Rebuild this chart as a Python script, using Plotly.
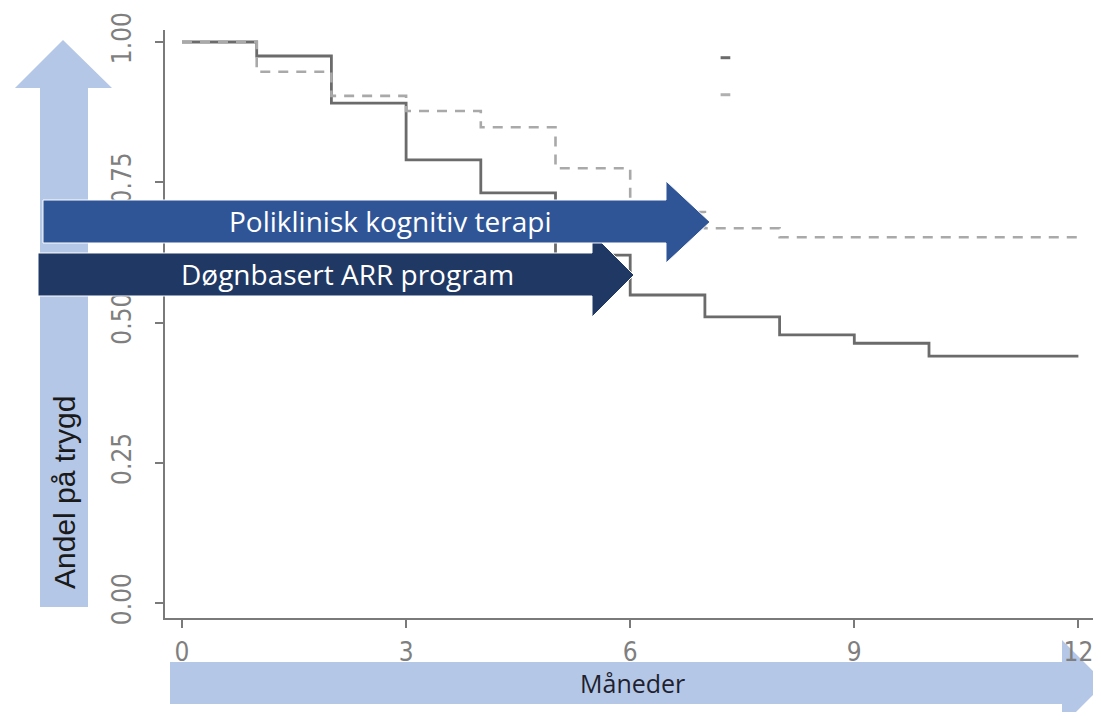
import plotly.graph_objects as go

# ---- data ----
months = [0, 1, 2, 3, 4, 5, 6, 7, 8, 9, 10, 12]
arr_program = [1.00, 0.975, 0.891, 0.790, 0.731, 0.620, 0.549, 0.510, 0.478, 0.463, 0.440, 0.440]
months_cbt = [0, 1, 2, 3, 4, 5, 6, 7, 8, 12]
cbt = [1.00, 0.947, 0.904, 0.877, 0.848, 0.775, 0.697, 0.668, 0.652, 0.652]
x_ticks = [0, 3, 6, 9, 12]
y_ticks = [0.0, 0.25, 0.5, 0.75, 1.0]
y_tick_text = ["0.00", "0.25", "0.50", "0.75", "1.00"]
legend_x = [7.21, 7.34]
legend_y_solid = [0.972, 0.972]
legend_y_dash = [0.906, 0.906]

label_y = "Andel på trygd"
label_x = "Måneder"
label_cbt = "Poliklinisk kognitiv terapi"
label_arr = "Døgnbasert ARR program"

# the page body has an 8px margin; make the page exactly fill the 1101x720 window
OFF = 8
W, H = 1101 - 2 * OFF, 720 - 2 * OFF
S_L, S_R, S_T, S_B = 165, OFF + W, 30, 618   # plot area in window pixels
ML, MT = S_L - OFF, S_T - OFF
MR, MB = (OFF + W) - S_R, (OFF + H) - S_B
PW, PH = S_R - S_L, S_B - S_T

X0_PIX, X_PER_MONTH = 182, 74.7
Y1_PIX, Y_PER_UNIT = 42, 561
x_range = [(S_L - X0_PIX) / X_PER_MONTH, (S_R - X0_PIX) / X_PER_MONTH]
y_range = [1 - (S_B - Y1_PIX) / Y_PER_UNIT, 1 + (Y1_PIX - S_T) / Y_PER_UNIT]


def px(X):
    return (X - S_L) / PW


def py(Y):
    return (S_B - Y) / PH


def harrow(x0, st, sb, xh, ht, hb, xt, yc):
    pts = [(x0, st), (xh, st), (xh, ht), (xt, yc), (xh, hb), (xh, sb), (x0, sb)]
    return "M " + " L ".join(f"{px(a):.5f},{py(b):.5f}" for a, b in pts) + " Z"


def varrow(sl, sr, y0, yh, hl, hr, xc, yt):
    pts = [(sl, y0), (sl, yh), (hl, yh), (xc, yt), (hr, yh), (sr, yh), (sr, y0)]
    return "M " + " L ".join(f"{px(a):.5f},{py(b):.5f}" for a, b in pts) + " Z"


fig = go.Figure()
fig.add_trace(go.Scatter(x=months, y=arr_program, mode="lines", line_shape="hv",
                         line=dict(color="#6b6b6b", width=2.8), showlegend=False))
fig.add_trace(go.Scatter(x=months_cbt, y=cbt, mode="lines", line_shape="hv",
                         line=dict(color="#a9a9a9", width=2.6, dash="10px,8px"), showlegend=False))
fig.add_trace(go.Scatter(x=legend_x, y=legend_y_solid, mode="lines",
                         line=dict(color="#6b6b6b", width=3), showlegend=False))
fig.add_trace(go.Scatter(x=legend_x, y=legend_y_dash, mode="lines",
                         line=dict(color="#b0b0b0", width=3), showlegend=False))

shapes = [
    dict(type="path", xref="paper", yref="paper", layer="below",
         path=varrow(40, 88, 607, 88, 15, 112, 63, 40),
         fillcolor="#b4c7e7", line=dict(width=0)),
    dict(type="path", xref="paper", yref="paper", layer="below",
         path=harrow(170, 662, 704, 1062, 640, 726, 1105, 683),
         fillcolor="#b4c7e7", line=dict(width=0)),
    dict(type="path", xref="paper", yref="paper", layer="above",
         path=harrow(38, 253, 296, 592, 233, 317, 634, 275),
         fillcolor="#203864", line=dict(color="white", width=1)),
    dict(type="path", xref="paper", yref="paper", layer="above",
         path=harrow(43, 200, 243, 666, 181, 263, 710, 222),
         fillcolor="#2f5597", line=dict(color="white", width=1)),
]

annotations = [
    dict(x=px(64), y=py(493), xref="paper", yref="paper", text=label_y, textangle=-90,
         xanchor="center", yanchor="middle", showarrow=False,
         font=dict(family="Liberation Sans", size=30, color="#1a1a1a")),
    dict(x=px(632), y=py(683), xref="paper", yref="paper", text=label_x,
         xanchor="center", yanchor="middle", showarrow=False,
         font=dict(family="Open Sans", size=25, color="#1f1f2f")),
    dict(x=px(390), y=py(221), xref="paper", yref="paper", text=label_cbt,
         xanchor="center", yanchor="middle", showarrow=False,
         font=dict(family="Open Sans", size=28, color="white")),
    dict(x=px(179), y=py(274), xref="paper", yref="paper", text=label_arr,
         xanchor="left", yanchor="middle", showarrow=False,
         font=dict(family="Open Sans", size=28, color="white")),
]

tick_font = dict(family="Liberation Sans Narrow, DejaVu Sans Condensed, Arial Narrow, sans-serif",
                 size=26, color="#7f7f7f")

fig.update_layout(
    width=W, height=H,
    margin=dict(l=ML, r=MR, t=MT, b=MB, pad=0, autoexpand=False),
    paper_bgcolor="white", plot_bgcolor="white",
    shapes=shapes, annotations=annotations,
    xaxis=dict(range=x_range, tickvals=x_ticks, ticktext=[str(v) for v in x_ticks],
               automargin=False, ticklabeloverflow="allow",
               showgrid=False, zeroline=False, showline=True, linecolor="#7a7a7a", linewidth=2,
               ticks="outside", ticklen=8, tickwidth=1.5, tickcolor="#7a7a7a",
               ticklabelstandoff=2, tickfont=tick_font),
    yaxis=dict(range=y_range, tickvals=y_ticks, ticktext=y_tick_text, tickangle=-90,
               automargin=False, ticklabeloverflow="allow",
               showgrid=False, zeroline=False, showline=True, linecolor="#7a7a7a", linewidth=2,
               ticks="outside", ticklen=8, tickwidth=1.5, tickcolor="#7a7a7a",
               ticklabelstandoff=14, tickfont=tick_font),
)

fig.write_html("out.html")
